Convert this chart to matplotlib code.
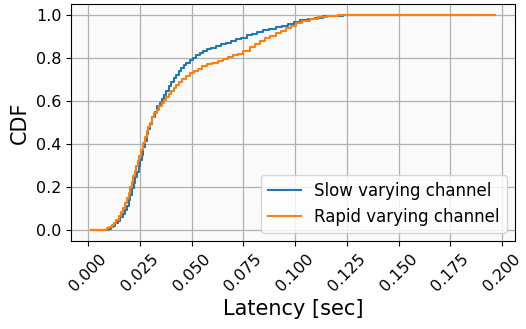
import numpy as np
import matplotlib
matplotlib.use("Agg")
import matplotlib.pyplot as plt

# step points of the two empirical CDFs (latency in sec, CDF value)
slow_x = [0.0014, 0.0060, 0.0080, 0.0095, 0.0108, 0.0120, 0.0131, 0.0143, 0.0155, 0.0167,
          0.0179, 0.0187, 0.0195, 0.0203, 0.0211, 0.0219, 0.0227, 0.0235, 0.0243, 0.0250,
          0.0258, 0.0266, 0.0274, 0.0282, 0.0290, 0.0298, 0.0310, 0.0322, 0.0334, 0.0346,
          0.0358, 0.0368, 0.0378, 0.0390, 0.0402, 0.0414, 0.0426, 0.0438, 0.0450, 0.0462,
          0.0474, 0.0490, 0.0506, 0.0522, 0.0538, 0.0555, 0.0575, 0.0595, 0.0618, 0.0642,
          0.0666, 0.0690, 0.0715, 0.0740, 0.0765, 0.0790, 0.0815, 0.0845, 0.0875, 0.0905,
          0.0935, 0.0965, 0.0995, 0.1025, 0.1060, 0.1095, 0.1135, 0.1180, 0.1230, 0.1300,
          0.1865]
slow_cdf = [0.000, 0.001, 0.004, 0.008, 0.014, 0.022, 0.032, 0.045, 0.060, 0.078,
            0.095, 0.115, 0.140, 0.165, 0.195, 0.220, 0.248, 0.272, 0.298, 0.325,
            0.350, 0.385, 0.415, 0.445, 0.470, 0.495, 0.525, 0.550, 0.575, 0.590,
            0.610, 0.630, 0.648, 0.668, 0.690, 0.708, 0.722, 0.738, 0.752, 0.765,
            0.778, 0.790, 0.800, 0.812, 0.823, 0.833, 0.840, 0.848, 0.856, 0.864,
            0.871, 0.878, 0.886, 0.894, 0.905, 0.912, 0.920, 0.928, 0.935, 0.943,
            0.950, 0.958, 0.966, 0.974, 0.981, 0.987, 0.992, 0.995, 0.998, 1.000,
            1.000]

rapid_x = [0.0014, 0.0055, 0.0075, 0.0090, 0.0102, 0.0113, 0.0123, 0.0135, 0.0147, 0.0158,
           0.0168, 0.0178, 0.0187, 0.0195, 0.0203, 0.0211, 0.0218, 0.0226, 0.0233, 0.0240,
           0.0247, 0.0255, 0.0263, 0.0272, 0.0282, 0.0290, 0.0298, 0.0308, 0.0319, 0.0330,
           0.0342, 0.0354, 0.0366, 0.0378, 0.0390, 0.0402, 0.0414, 0.0426, 0.0440, 0.0455,
           0.0470, 0.0490, 0.0510, 0.0530, 0.0550, 0.0575, 0.0600, 0.0625, 0.0650, 0.0675,
           0.0700, 0.0725, 0.0750, 0.0780, 0.0805, 0.0830, 0.0855, 0.0880, 0.0905, 0.0930,
           0.0955, 0.0980, 0.1005, 0.1035, 0.1070, 0.1110, 0.1155, 0.1205, 0.1280, 0.1965]
rapid_cdf = [0.000, 0.001, 0.004, 0.009, 0.016, 0.024, 0.034, 0.048, 0.065, 0.085,
             0.105, 0.125, 0.150, 0.175, 0.200, 0.225, 0.250, 0.275, 0.298, 0.322,
             0.345, 0.375, 0.405, 0.435, 0.460, 0.480, 0.500, 0.525, 0.545, 0.560,
             0.575, 0.590, 0.605, 0.620, 0.633, 0.645, 0.660, 0.675, 0.690, 0.702,
             0.715, 0.728, 0.740, 0.750, 0.760, 0.770, 0.778, 0.786, 0.795, 0.803,
             0.812, 0.820, 0.830, 0.850, 0.865, 0.878, 0.890, 0.902, 0.914, 0.926,
             0.938, 0.950, 0.962, 0.972, 0.981, 0.988, 0.993, 0.997, 1.000, 1.000]

x_ticks = [0.000, 0.025, 0.050, 0.075, 0.100, 0.125, 0.150, 0.175, 0.200]

fig = plt.figure(figsize=(5.26, 3.29), dpi=100)
ax = fig.add_axes([0.135, 0.267, 0.844, 0.721])
ax.set_facecolor('#fafafa')

ax.plot(slow_x, slow_cdf, drawstyle='steps-post', color='#1f77b4', label='Slow varying channel')
ax.plot(rapid_x, rapid_cdf, drawstyle='steps-post', color='#ff7f0e', label='Rapid varying channel')

ax.set_xticks(x_ticks)
ax.set_xticklabels(['%.3f' % t for t in x_ticks])
ax.tick_params(axis='x', labelrotation=45, labelsize=11.5)
ax.tick_params(axis='y', labelsize=11.5)
ax.set_xlabel('Latency [sec]', fontsize=15)
ax.set_ylabel('CDF', fontsize=15)
ax.grid(True, color='#b0b0b0', linewidth=0.9)
ax.legend(loc='lower right', fontsize=12)

fig.savefig('out.png', dpi=100)
